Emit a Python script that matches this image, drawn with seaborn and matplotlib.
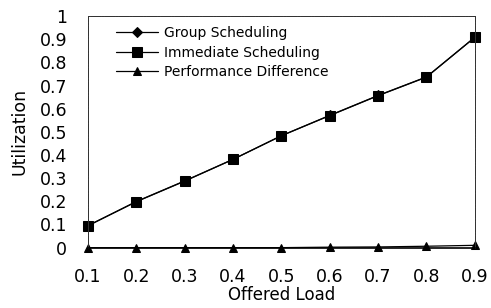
import pandas as pd
import matplotlib
matplotlib.use("Agg")
import matplotlib.pyplot as plt
import seaborn as sns

# Chart data
offered_load = [0.1, 0.2, 0.3, 0.4, 0.5, 0.6, 0.7, 0.8, 0.9]
group_sched = [0.095, 0.198, 0.287, 0.381, 0.483, 0.571, 0.657, 0.737, 0.908]
immediate_sched = [0.094, 0.199, 0.288, 0.381, 0.483, 0.570, 0.656, 0.736, 0.908]
perf_diff = [0.0, 0.0, 0.0, 0.0, 0.0, 0.002, 0.003, 0.006, 0.01]
series_names = ["Group Scheduling", "Immediate Scheduling", "Performance Difference"]

sns.set_style("white")
plt.rcParams['font.family'] = ['DejaVu Sans']
plt.rcParams['text.color'] = 'black'
plt.rcParams['axes.labelcolor'] = 'black'
plt.rcParams['xtick.color'] = 'black'
plt.rcParams['ytick.color'] = 'black'

fig = plt.figure(figsize=(4.91, 3.08), dpi=100)
ax = fig.add_axes([0.179, 0.196, 0.788, 0.752])

markers = ["D", "s", "^"]
sizes = [5, 7, 6]
for name, vals, mk, ms in zip(series_names, [group_sched, immediate_sched, perf_diff], markers, sizes):
    df = pd.DataFrame({"load": offered_load, "util": vals})
    sns.lineplot(data=df, x="load", y="util", ax=ax, color="black", marker=mk,
                 markersize=ms, markeredgecolor="black", linewidth=0.9,
                 label=name, clip_on=False)

ax.set_xlim(0.1, 0.9)
ax.set_ylim(0, 1)
ax.set_xticks(offered_load)
ax.set_xticklabels([f"{v:.1f}" for v in offered_load])
ax.set_yticks([i / 10 for i in range(11)])
ax.set_yticklabels(["0"] + [f"0.{i}" for i in range(1, 10)] + ["1"])
ax.tick_params(axis="both", length=0, labelsize=12.5, labelcolor="black")
ax.tick_params(axis="x", pad=15)
ax.tick_params(axis="y", pad=15)

for side in ["top", "left", "right"]:
    ax.spines[side].set_linewidth(0.7)
    ax.spines[side].set_linestyle((0, (1, 0.6)))
    ax.spines[side].set_color("#333333")
ax.spines["bottom"].set_linewidth(1.2)
ax.spines["bottom"].set_color("black")

ax.set_xlabel("Offered Load", fontsize=12, labelpad=0, color="black")
ax.set_ylabel("Utilization", fontsize=12.5, labelpad=8, color="black")

leg = ax.legend(loc="upper left", bbox_to_anchor=(0.04, 1.01), frameon=False,
                fontsize=10, handlelength=3.0, handletextpad=0.45, labelspacing=0.4)
for t in leg.get_texts():
    t.set_color("black")

fig.savefig("out.png", dpi=100)
